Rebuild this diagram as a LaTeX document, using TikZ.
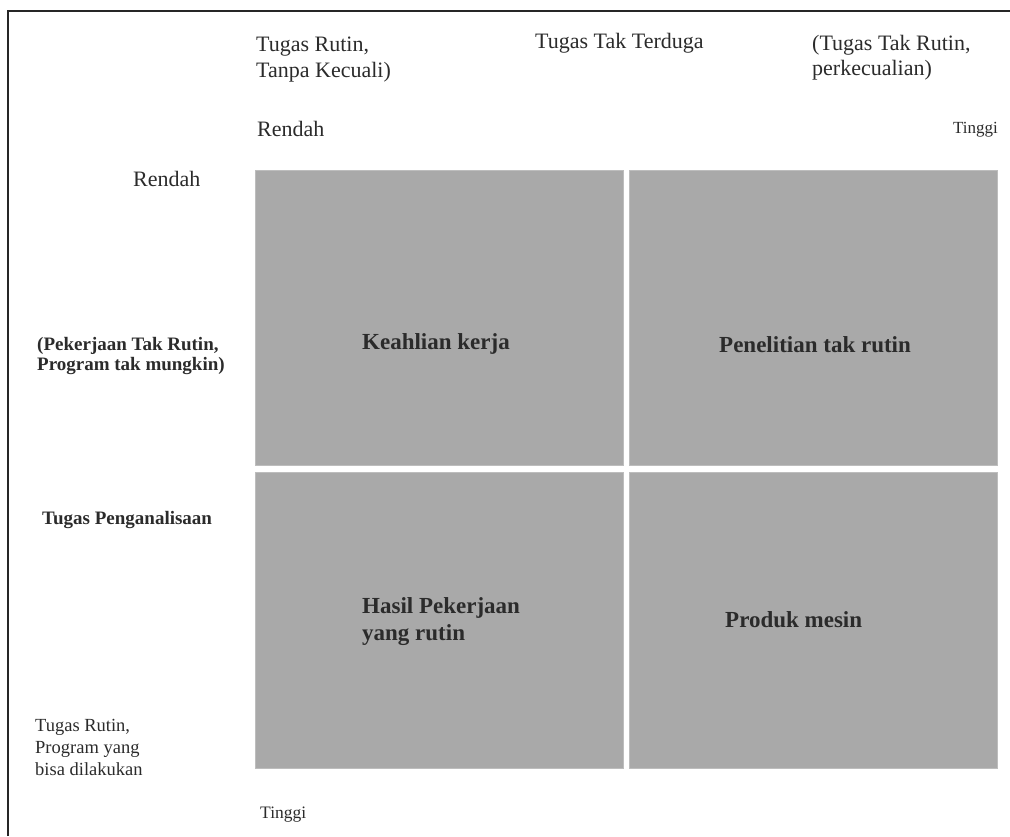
\documentclass[tikz,border=0pt]{standalone}
\usepackage{fontspec}
\setmainfont{Liberation Serif}
\definecolor{quadfill}{HTML}{A9A9A9}
\definecolor{quadedge}{HTML}{BDBDBD}
\definecolor{ink}{HTML}{2B2B2B}
\tikzset{
  quad/.style={draw=quadedge, line width=0.8pt, fill=quadfill, anchor=north west, inner sep=0pt},
  lab/.style={text=ink, inner sep=0pt, align=left},
  frameline/.style={draw=black!85, line width=2.4pt},
}
\newcommand{\fs}[2]{\fontsize{#1}{#2}\selectfont}
\begin{document}
\begin{tikzpicture}[x=1pt, y=-1pt]
  \useasboundingbox (0,0) rectangle (1010,836);
  % open frame: left and top rules
  \coordinate (fbl) at (8,836);
  \coordinate (ftl) at (8,11);
  \coordinate (ftr) at (1010,11);
  \draw[frameline] (fbl) -- (ftl) -- (ftr);

  % the four quadrants
  \node[quad, minimum width=368pt, minimum height=295pt] (qtl) at (255,170) {};
  \node[quad, minimum width=368pt, minimum height=295pt] (qtr) at (629,170) {};
  \node[quad, minimum width=368pt, minimum height=296pt] (qbl) at (255,472) {};
  \node[quad, minimum width=368pt, minimum height=296pt] (qbr) at (629,472) {};

  % quadrant labels
  \node[lab, anchor=base west, font=\fs{23}{27}\bfseries] (lkk) at (362,349) {Keahlian kerja};
  \node[lab, anchor=base west, font=\fs{23}{27}\bfseries] (lpt) at (719,352) {Penelitian tak rutin};
  \node[lab, anchor=north west, font=\fs{23}{27}\bfseries] (lhp) at (362,597.5) {Hasil Pekerjaan\\yang rutin};
  \node[lab, anchor=base west, font=\fs{23}{27}\bfseries] (lpm) at (725,627) {Produk mesin};

  % horizontal axis headings
  \node[lab, anchor=north west, font=\fs{22}{26}] (htl) at (256,37) {Tugas Rutin,\\Tanpa Kecuali)};
  \node[lab, anchor=base west, font=\fs{22}{26}] (htm) at (535,48) {Tugas Tak Terduga};
  \node[lab, anchor=north west, font=\fs{22}{25}] (htr) at (812,34.7) {(Tugas Tak Rutin,\\perkecualian)};
  \node[lab, anchor=base west, font=\fs{22}{26}] (hlo) at (257,136) {Rendah};
  \node[lab, anchor=base east, font=\fs{17}{20}] (hhi) at (998,133) {Tinggi};

  % vertical axis headings
  \node[lab, anchor=base west, font=\fs{22}{26}] (vlo) at (133,186) {Rendah};
  \node[lab, anchor=north west, font=\fs{19}{20.5}\bfseries] (vnr) at (37,337) {(Pekerjaan Tak Rutin,\\Program tak mungkin)};
  \node[lab, anchor=base west, font=\fs{19}{22}\bfseries] (vta) at (42,524) {Tugas Penganalisaan};
  \node[lab, anchor=north west, font=\fs{18.5}{22}] (vrt) at (35,719.5) {Tugas Rutin,\\Program yang\\bisa dilakukan};
  \node[lab, anchor=base west, font=\fs{17.5}{20}] (vhi) at (260,818) {Tinggi};
\end{tikzpicture}
\end{document}
